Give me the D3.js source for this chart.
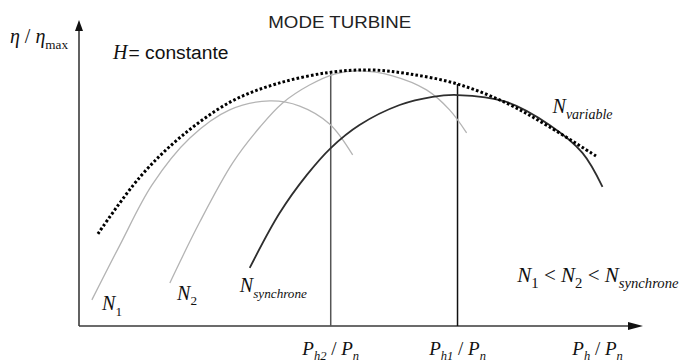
<!DOCTYPE html>
<html>
<head>
<meta charset="utf-8">
<script src="https://cdn.jsdelivr.net/npm/d3@7/dist/d3.min.js"></script>
<style>
  html, body { margin: 0; padding: 0; background: #fff; }
  svg { display: block; }
</style>
</head>
<body>
<svg id="chart" width="681" height="363"></svg>
<script>
// Relative hydraulic power P_h / P_n (x) and relative efficiency eta / eta_max (y)

// Envelope of best efficiency at variable speed (dotted)
const envX = [0.05, 0.16, 0.27, 0.40, 0.52, 0.66, 0.77, 0.87, 1.00, 1.13, 1.24, 1.37];
const envY = [0.36, 0.58, 0.74, 0.875, 0.945, 0.99, 1.00, 0.985, 0.945, 0.87, 0.78, 0.66];

// Speed N1
const n1X = [0.034, 0.108, 0.193, 0.293, 0.398, 0.504, 0.583, 0.662, 0.723];
const n1Y = [0.102, 0.316, 0.551, 0.734, 0.844, 0.879, 0.859, 0.789, 0.668];

// Speed N2
const n2X = [0.240, 0.319, 0.406, 0.478, 0.538, 0.609, 0.675, 0.741, 0.828, 0.918, 0.979, 1.024];
const n2Y = [0.168, 0.406, 0.637, 0.777, 0.871, 0.941, 0.984, 0.996, 0.977, 0.922, 0.844, 0.754];

// Synchronous speed
const nsX = [0.451, 0.530, 0.602, 0.665, 0.741, 0.847, 0.934, 1.000, 1.129, 1.243, 1.330, 1.383];
const nsY = [0.227, 0.441, 0.590, 0.695, 0.785, 0.863, 0.895, 0.902, 0.875, 0.785, 0.676, 0.543];

// Operating points P_h2 / P_n and P_h1 / P_n, with the efficiency reached there
const markX = [0.665, 1.0];
const markTop = [0.99, 0.945];
const markColor = ["#555", "#111"];

// Axis extent
const xMax = 1.49, yMax = 1.195;

const svg = d3.select("#chart");
const x = d3.scaleLinear().domain([0, xMax]).range([79, 643]);
const y = d3.scaleLinear().domain([0, yMax]).range([326, 20]);

const zip = (xs, ys) => xs.map((v, i) => [v, ys[i]]);
const line = d3.line()
  .x(d => x(d[0])).y(d => y(d[1]))
  .curve(d3.curveCatmullRom.alpha(0.5));

// Axes with arrow heads
const axisCol = "#3a3a3a";
svg.append("line")
  .attr("x1", x(0)).attr("y1", y(0)).attr("x2", x(0)).attr("y2", y(yMax) + 9)
  .attr("stroke", axisCol).attr("stroke-width", 1.6);
svg.append("path")
  .attr("d", `M${x(0)},${y(yMax)} L${x(0) - 4},${y(yMax) + 11} L${x(0) + 4},${y(yMax) + 11} Z`)
  .attr("fill", "#111");
svg.append("line")
  .attr("x1", x(0)).attr("y1", y(0)).attr("x2", x(xMax) - 10).attr("y2", y(0))
  .attr("stroke", axisCol).attr("stroke-width", 1.6);
svg.append("path")
  .attr("d", `M${x(xMax)},${y(0)} L${x(xMax) - 15},${y(0) - 4} L${x(xMax) - 15},${y(0) + 4} Z`)
  .attr("fill", "#111");

// Vertical markers at the two operating points
svg.selectAll(".mark").data(markX).enter().append("line")
  .attr("class", "mark")
  .attr("x1", d => x(d)).attr("x2", d => x(d))
  .attr("y1", y(0)).attr("y2", (d, i) => y(markTop[i]))
  .attr("stroke", (d, i) => markColor[i]).attr("stroke-width", 1.5);

// Efficiency curves at fixed speed
svg.append("path").attr("d", line(zip(n1X, n1Y)))
  .attr("fill", "none").attr("stroke", "#b4b4b4").attr("stroke-width", 1.3);
svg.append("path").attr("d", line(zip(n2X, n2Y)))
  .attr("fill", "none").attr("stroke", "#b4b4b4").attr("stroke-width", 1.3);
svg.append("path").attr("d", line(zip(nsX, nsY)))
  .attr("fill", "none").attr("stroke", "#2e2e2e").attr("stroke-width", 1.8);

// Variable-speed envelope
svg.append("path").attr("d", line(zip(envX, envY)))
  .attr("fill", "none").attr("stroke", "#000").attr("stroke-width", 3)
  .attr("stroke-dasharray", "2.6,2.2");

// Text helpers
const serif = "'Liberation Serif', 'Times New Roman', serif";
const sans = "'Liberation Sans', Arial, sans-serif";

// parts: [text, kind] where kind is "i" (italic), "r" (roman), "s" (italic subscript), "rs" (roman subscript)
function mathText(px, py, parts, size, anchor, subScale) {
  const ss = subScale || 0.66;
  const t = svg.append("text")
    .attr("x", x(px)).attr("y", y(py))
    .attr("font-family", serif).attr("font-size", size)
    .attr("text-anchor", anchor || "start").attr("fill", "#111");
  let shifted = false;
  parts.forEach(([txt, kind]) => {
    const sp = t.append("tspan").text(txt);
    const isSub = kind === "s" || kind === "rs";
    if (isSub && !shifted) { sp.attr("dy", size * 0.28); shifted = true; }
    else if (!isSub && shifted) { sp.attr("dy", -size * 0.28); shifted = false; }
    sp.attr("font-style", (kind === "i" || kind === "s") ? "italic" : "normal");
    if (isSub) sp.attr("font-size", size * ss);
  });
  return t;
}

// Title
svg.append("text")
  .attr("x", x(0.689)).attr("y", y(1.162))
  .attr("text-anchor", "middle").attr("font-family", sans).attr("font-size", 16)
  .attr("fill", "#222").attr("textLength", 143).attr("lengthAdjust", "spacingAndGlyphs")
  .text("MODE TURBINE");

// Y axis label
mathText(-0.029, 1.105, [["η", "i"], [" / ", "r"], ["η", "i"], ["max", "rs"]], 20, "end");

// Head condition
const hc = svg.append("text")
  .attr("x", x(0.090)).attr("y", y(1.043)).attr("fill", "#111");
hc.append("tspan").attr("font-family", serif).attr("font-style", "italic").attr("font-size", 20).text("H");
hc.append("tspan").attr("font-family", sans).attr("font-size", 18).attr("dx", 1)
  .attr("textLength", 100).attr("lengthAdjust", "spacingAndGlyphs").text("= constante");

// Curve labels
mathText(0.061, 0.0625, [["N", "i"], ["1", "rs"]], 20);
mathText(0.259, 0.102, [["N", "i"], ["2", "rs"]], 20);
mathText(0.425, 0.133, [["N", "i"], ["synchrone", "s"]], 20);
mathText(1.251, 0.832, [["N", "i"], ["variable", "s"]], 20, "start", 0.7);
mathText(1.158, 0.172, [["N", "i"], ["1", "rs"], [" < ", "r"], ["N", "i"], ["2", "rs"], [" < ", "r"], ["N", "i"], ["synchrone", "s"]], 21, "start", 0.7);

// Abscissa labels
const xLabX = [markX[0], markX[1], 1.37];
const xLabSub = ["h2", "h1", "h"];
xLabX.forEach((v, i) => {
  mathText(v, -0.113, [["P", "i"], [xLabSub[i], "s"], [" / ", "r"], ["P", "i"], ["n", "s"]], 19, "middle");
});
</script>
</body>
</html>
